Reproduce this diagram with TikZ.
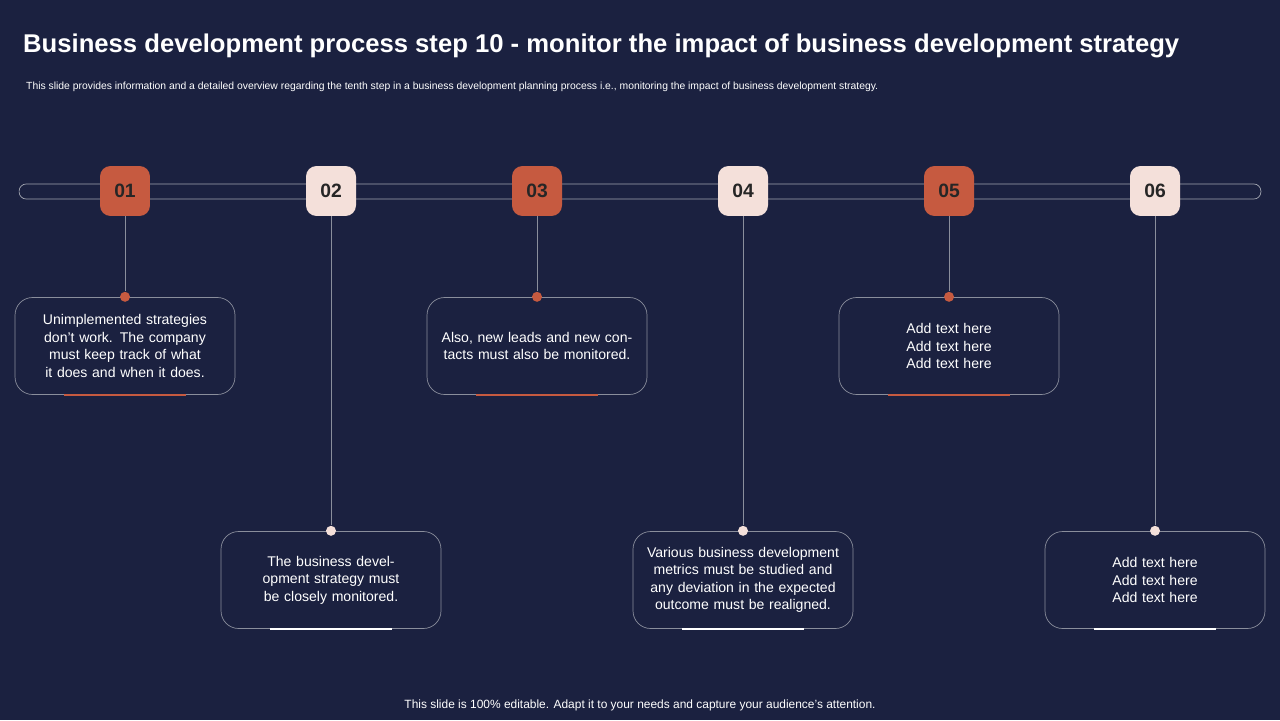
\documentclass[tikz,border=0pt]{standalone}
\usepackage{fontspec}
\setmainfont{Liberation Sans}
\usetikzlibrary{positioning}
\definecolor{bgnavy}{HTML}{1B2140}
\definecolor{rust}{HTML}{C65A40}
\definecolor{blush}{HTML}{F4E0DA}
\definecolor{edgegray}{HTML}{8A8E9C}

\begin{document}
\begin{tikzpicture}[x=0.02cm,y=-0.02cm]
        \tikzset{badge/.style={rounded corners=6pt,minimum width=1cm,minimum height=1cm,font=\fontsize{11}{13}\selectfont\bfseries}}
        \tikzset{card/.style={draw=edgegray,rounded corners=10pt,minimum width=4.4cm,minimum height=1.94cm,text width=4cm,align=center,text=white,font=\fontsize{8}{10}\selectfont}}
        \tikzset{pin/.style={circle,inner sep=0pt,minimum size=0.2cm}}
        \tikzset{stem/.style={draw=edgegray,line width=0.5pt}}

        \fill[bgnavy] (0,0) rectangle (1280,720);
        \node[anchor=west,text=white,font=\fontsize{14.6}{17}\selectfont\bfseries] (title) at (17,46) {Business development process step 10 - monitor the impact of business development strategy};
        \node[anchor=west,text=white,font=\fontsize{5.9}{7}\selectfont] (subtitle) at (20,87) {This slide provides information and a detailed overview regarding the tenth step in a business development planning process i.e., monitoring the impact of business development strategy.};

        \node[draw=edgegray!80!white,rounded corners=4pt,minimum width=24.84cm,minimum height=0.3cm] (track) at (640,191.5) {};

        % steps: x / number / card row / text / colour / accent
        \foreach \x/\n/\y/\txt/\col/\acc in {
            125/01/346/{Unimplemented strategies don’t work. The company must keep track of what it does and when it does.}/rust/rust,
            331/02/580/{The business development strategy must be closely monitored.}/blush/white,
            537/03/346/{Also, new leads and new contacts must also be monitored.}/rust/rust,
            743/04/580/{Various business development metrics must be studied and any deviation in the expected outcome must be realigned.}/blush/white,
            949/05/346/{Add text here\\Add text here\\Add text here}/rust/rust,
            1155/06/580/{Add text here\\Add text here\\Add text here}/blush/white} {
            \ifx\col\rust\def\numcol{white}\else\def\numcol{black!85}\fi
            \node[badge,fill=\col,text=\numcol] (b\n) at (\x,191) {\n};
            \node[card] (c\n) at (\x,\y) {\txt};
            \node[pin,fill=\col,above=-0.1cm of c\n.north] (p\n) {};
            \draw[stem] (b\n) -- (p\n);
            \draw[\acc,line width=1pt] ([xshift=-1.22cm]c\n.south) -- ([xshift=1.22cm]c\n.south);
        }

        \node[text=white,font=\fontsize{6.8}{8}\selectfont] (footer) at (640,705) {This slide is 100\% editable. Adapt it to your needs and capture your audience's attention.};
    \end{tikzpicture}
\end{document}
